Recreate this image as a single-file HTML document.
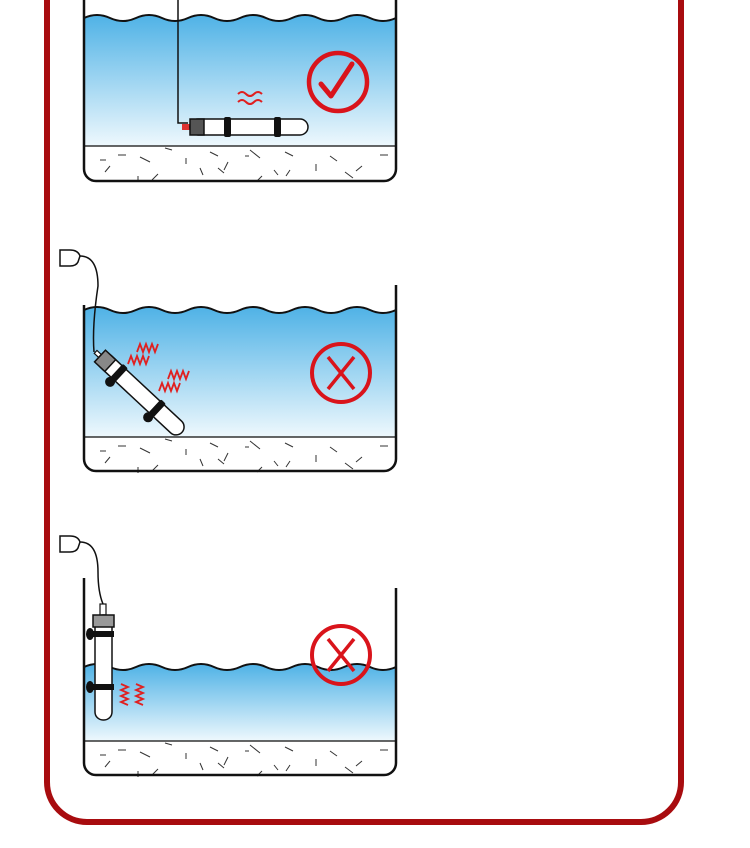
<!DOCTYPE html>
<html><head><meta charset="utf-8"><style>html,body{margin:0;padding:0;background:#fff}svg{display:block}</style></head><body>
<svg width="750" height="848" viewBox="0 0 750 848" xmlns="http://www.w3.org/2000/svg">
<defs>
<linearGradient id="w" x1="0" y1="0" x2="0" y2="1">
<stop offset="0" stop-color="#4fb2e6"/><stop offset="1" stop-color="#eef8fd"/>
</linearGradient>
<g id="sand" stroke="#333" stroke-width="1" fill="none">
<path d="M110 20l-5 6M118 9h8M140 11l10 5M138 30v6M158 28l-6 6M165 2l7 2M178 0h10M186 12v6M200 22l3 7M210 6l8 4M218 22l6 5M228 16l-4 8M245 10h4M250 4l10 8M274 24l4 5M285 6l8 4M290 24l-4 6M316 18v7M330 10l7 5M345 26l8 6M362 20l-6 5M380 9h8M100 14h6M262 30l-5 5"/>
</g>
</defs>
<path d="M47 0V782a40 40 0 0 0 40 40H641a40 40 0 0 0 40-40V0" fill="none" stroke="#a80c0f" stroke-width="6"/>

<!-- Tank 1 -->
<path d="M84 18 q13 -6 26 0 t26 0 t26 0 t26 0 t26 0 t26 0 t26 0 t26 0 t26 0 t26 0 t26 0 t26 0 V146 H84Z" fill="url(#w)"/>
<path d="M84 18 q13 -6 26 0 t26 0 t26 0 t26 0 t26 0 t26 0 t26 0 t26 0 t26 0 t26 0 t26 0 t26 0" fill="none" stroke="#111" stroke-width="2"/>
<line x1="84" y1="146" x2="396" y2="146" stroke="#333" stroke-width="1.5"/>
<use href="#sand" x="0" y="146"/>
<path d="M84 0V169a12 12 0 0 0 12 12H384a12 12 0 0 0 12-12V0" fill="none" stroke="#111" stroke-width="2.5"/>
<path d="M178 0V123H188" fill="none" stroke="#111" stroke-width="1.5"/>
<rect x="182" y="124" width="9" height="6" fill="#d33"/>
<rect x="190" y="119" width="118" height="16" rx="8" fill="#fff" stroke="#111" stroke-width="1.5"/>
<rect x="190" y="119" width="14" height="16" fill="#555" stroke="#111" stroke-width="1.5"/>
<rect x="224" y="117" width="7" height="20" rx="2" fill="#111"/>
<rect x="274" y="117" width="7" height="20" rx="2" fill="#111"/>
<path d="M238 94q4-4 8 0t8 0t8 0M238 102q4-4 8 0t8 0t8 0" fill="none" stroke="#e02020" stroke-width="2"/>
<circle cx="338" cy="82" r="29" fill="none" stroke="#d9141b" stroke-width="4.5"/>
<path d="M321 84l10 12l21-32" fill="none" stroke="#d9141b" stroke-width="5" stroke-linecap="round" stroke-linejoin="round"/>

<!-- Tank 2 -->
<path d="M84 310 q13 -6 26 0 t26 0 t26 0 t26 0 t26 0 t26 0 t26 0 t26 0 t26 0 t26 0 t26 0 t26 0 V437 H84Z" fill="url(#w)"/>
<path d="M84 310 q13 -6 26 0 t26 0 t26 0 t26 0 t26 0 t26 0 t26 0 t26 0 t26 0 t26 0 t26 0 t26 0" fill="none" stroke="#111" stroke-width="2"/>
<line x1="84" y1="437" x2="396" y2="437" stroke="#333" stroke-width="1.5"/>
<use href="#sand" x="0" y="437"/>
<path d="M84 305V459a12 12 0 0 0 12 12H384a12 12 0 0 0 12-12V285" fill="none" stroke="#111" stroke-width="2.5"/>
<path d="M60 250h10q8 0 10 6l-2 6q-2 4-8 4H60Z" fill="#fff" stroke="#111" stroke-width="1.5"/>
<path d="M80 256q18 0 18 30q-6 40-4 66" fill="none" stroke="#111" stroke-width="1.5"/>
<g transform="translate(100,356) rotate(43)">
<rect x="-6" y="-2" width="7" height="4" fill="#fff" stroke="#111" stroke-width="1.2"/>
<rect x="0" y="-8" width="112" height="16" rx="8" fill="#fff" stroke="#111" stroke-width="1.5"/>
<rect x="0" y="-8" width="14" height="16" fill="#888" stroke="#111" stroke-width="1.5"/>
<rect x="22" y="-10" width="7" height="20" rx="2" fill="#111"/>
<rect x="74" y="-10" width="7" height="20" rx="2" fill="#111"/>
<circle cx="25" cy="12" r="5" fill="#111"/>
<circle cx="77" cy="12" r="5" fill="#111"/>
</g>
<g fill="none" stroke="#e02020" stroke-width="1.8">
<path d="M137 352l3-8 3 8 3-8 3 8 3-8 3 8 3-8"/>
<path d="M128 364l3-8 3 8 3-8 3 8 3-8 3 8 3-8"/>
<path d="M168 379l3-8 3 8 3-8 3 8 3-8 3 8 3-8"/>
<path d="M159 391l3-8 3 8 3-8 3 8 3-8 3 8 3-8"/>
</g>
<circle cx="341" cy="373" r="29" fill="none" stroke="#d9141b" stroke-width="4"/>
<path d="M328 357l26 32M354 357l-26 32" stroke="#d9141b" stroke-width="3.5"/>

<!-- Tank 3 -->
<path d="M84 667 q13 -6 26 0 t26 0 t26 0 t26 0 t26 0 t26 0 t26 0 t26 0 t26 0 t26 0 t26 0 t26 0 V741 H84Z" fill="url(#w)"/>
<path d="M84 667 q13 -6 26 0 t26 0 t26 0 t26 0 t26 0 t26 0 t26 0 t26 0 t26 0 t26 0 t26 0 t26 0" fill="none" stroke="#111" stroke-width="2"/>
<line x1="84" y1="741" x2="396" y2="741" stroke="#333" stroke-width="1.5"/>
<use href="#sand" x="0" y="741"/>
<path d="M84 578V763a12 12 0 0 0 12 12H384a12 12 0 0 0 12-12V588" fill="none" stroke="#111" stroke-width="2.5"/>
<path d="M60 536h10q8 0 10 6l-2 6q-2 4-8 4H60Z" fill="#fff" stroke="#111" stroke-width="1.5"/>
<path d="M80 542q18 0 18 30q0 20 5 32" fill="none" stroke="#111" stroke-width="1.5"/>
<rect x="100" y="604" width="6" height="12" fill="#fff" stroke="#111" stroke-width="1.2"/>
<rect x="95" y="615" width="17" height="105" rx="8" fill="#fff" stroke="#111" stroke-width="1.5"/>
<rect x="93" y="615" width="21" height="12" fill="#999" stroke="#111" stroke-width="1.5"/>
<rect x="93" y="631" width="21" height="6" fill="#111"/>
<rect x="93" y="684" width="21" height="6" fill="#111"/>
<ellipse cx="90" cy="634" rx="4" ry="6" fill="#111"/>
<ellipse cx="90" cy="687" rx="4" ry="6" fill="#111"/>
<g fill="none" stroke="#e02020" stroke-width="1.8">
<path d="M121 684l7 3-7 3 7 3-7 3 7 3-7 3 7 3"/>
<path d="M136 684l7 3-7 3 7 3-7 3 7 3-7 3 7 3"/>
</g>
<circle cx="341" cy="655" r="29" fill="none" stroke="#d9141b" stroke-width="4"/>
<path d="M328 639l26 32M354 639l-26 32" stroke="#d9141b" stroke-width="3.5"/>
</svg>
</body></html>
